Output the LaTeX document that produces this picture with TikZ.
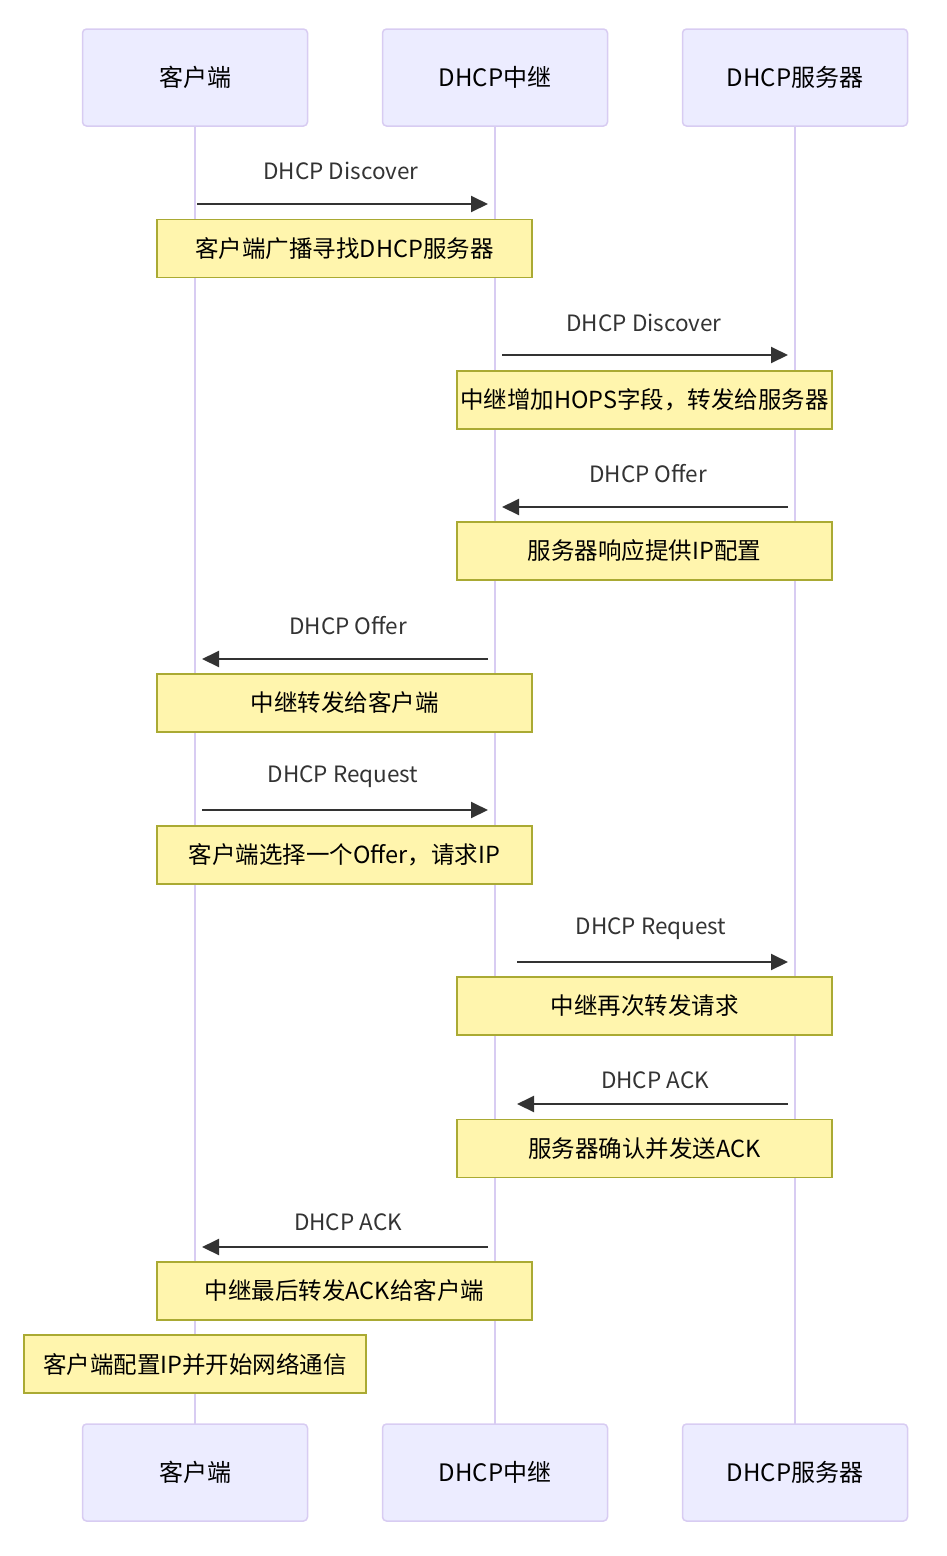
\documentclass[tikz,border=0pt]{standalone}
\usepackage{fontspec}
\setmainfont{Noto Sans CJK SC}
\usetikzlibrary{arrows.meta,positioning}

\definecolor{actorfill}{HTML}{ECECFF}
\definecolor{actorline}{HTML}{D8CCF2}
\definecolor{notefill}{HTML}{FFF5AD}
\definecolor{noteline}{HTML}{AAAA33}
\definecolor{msgcol}{HTML}{333333}

\tikzset{
  actor/.style={draw=actorline, fill=actorfill, line width=1.5pt, rounded corners=4pt,
    minimum width=225pt, minimum height=97pt, font=\fontsize{24}{28}\selectfont},
  note/.style={draw=noteline, fill=notefill, line width=1.5pt, minimum height=58pt,
    minimum width=375pt, inner sep=0pt, font=\fontsize{23.5}{27}\selectfont},
  msg/.style={draw=msgcol, line width=2pt, -{Triangle[length=17pt,width=16pt]}},
  msglabel/.style={text=msgcol, font=\fontsize{22.5}{26}\selectfont},
  lifeline/.style={draw=actorline, line width=2.5pt}
}

\begin{document}
\begin{tikzpicture}[x=1pt, y=-1pt]
  \useasboundingbox (0,0) rectangle (947,1556);

  % lifelines
  \draw[lifeline] (195,126) coordinate (cliT) -- (195,1424) coordinate (cliB);
  \draw[lifeline] (495,126) coordinate (relT) -- (495,1424) coordinate (relB);
  \draw[lifeline] (795,126) coordinate (srvT) -- (795,1424) coordinate (srvB);

  % participants, top and bottom
  \node[actor] (cli) at (195,77.5) {客户端};
  \node[actor] (rel) at (495,77.5) {DHCP中继};
  \node[actor] (srv) at (795,77.5) {DHCP服务器};
  \node[actor] (cli2) at (195,1472.5) {客户端};
  \node[actor] (rel2) at (495,1472.5) {DHCP中继};
  \node[actor] (srv2) at (795,1472.5) {DHCP服务器};

  % messages
  \coordinate (m1a) at (197,204);  \coordinate (m1b) at (488,204);
  \coordinate (m2a) at (502,355);  \coordinate (m2b) at (788,355);
  \coordinate (m3a) at (788,507);  \coordinate (m3b) at (502,507);
  \coordinate (m4a) at (488,659);  \coordinate (m4b) at (202,659);
  \coordinate (m5a) at (202,810);  \coordinate (m5b) at (488,810);
  \coordinate (m6a) at (517,962);  \coordinate (m6b) at (788,962);
  \coordinate (m7a) at (788,1104); \coordinate (m7b) at (517,1104);
  \coordinate (m8a) at (488,1247); \coordinate (m8b) at (202,1247);

  \draw[msg] (m1a) -- (m1b);
  \draw[msg] (m2a) -- (m2b);
  \draw[msg] (m3a) -- (m3b);
  \draw[msg] (m4a) -- (m4b);
  \draw[msg] (m5a) -- (m5b);
  \draw[msg] (m6a) -- (m6b);
  \draw[msg] (m7a) -- (m7b);
  \draw[msg] (m8a) -- (m8b);

  \node[msglabel] (l1) at (341,171) {DHCP Discover};
  \node[msglabel] (l2) at (644,323) {DHCP Discover};
  \node[msglabel] (l3) at (648,474) {DHCP Offer};
  \node[msglabel] (l4) at (348,626) {DHCP Offer};
  \node[msglabel] (l5) at (343,777) {DHCP Request};
  \node[msglabel] (l6) at (651,929) {DHCP Request};
  \node[msglabel] (l7) at (655,1080) {DHCP ACK};
  \node[msglabel] (l8) at (348,1222) {DHCP ACK};

  % notes
  \node[note] (n1) at (344.5,248.5) {客户端广播寻找DHCP服务器};
  \node[note] (n2) at (644.5,400) {中继增加HOPS字段，转发给服务器};
  \node[note] (n3) at (644.5,551) {服务器响应提供IP配置};
  \node[note] (n4) at (344.5,703) {中继转发给客户端};
  \node[note] (n5) at (344.5,855) {客户端选择一个Offer，请求IP};
  \node[note] (n6) at (644.5,1006) {中继再次转发请求};
  \node[note] (n7) at (644.5,1148.5) {服务器确认并发送ACK};
  \node[note] (n8) at (344.5,1291) {中继最后转发ACK给客户端};
  \node[note, minimum width=342pt] (n9) at (195,1364) {客户端配置IP并开始网络通信};
\end{tikzpicture}
\end{document}
